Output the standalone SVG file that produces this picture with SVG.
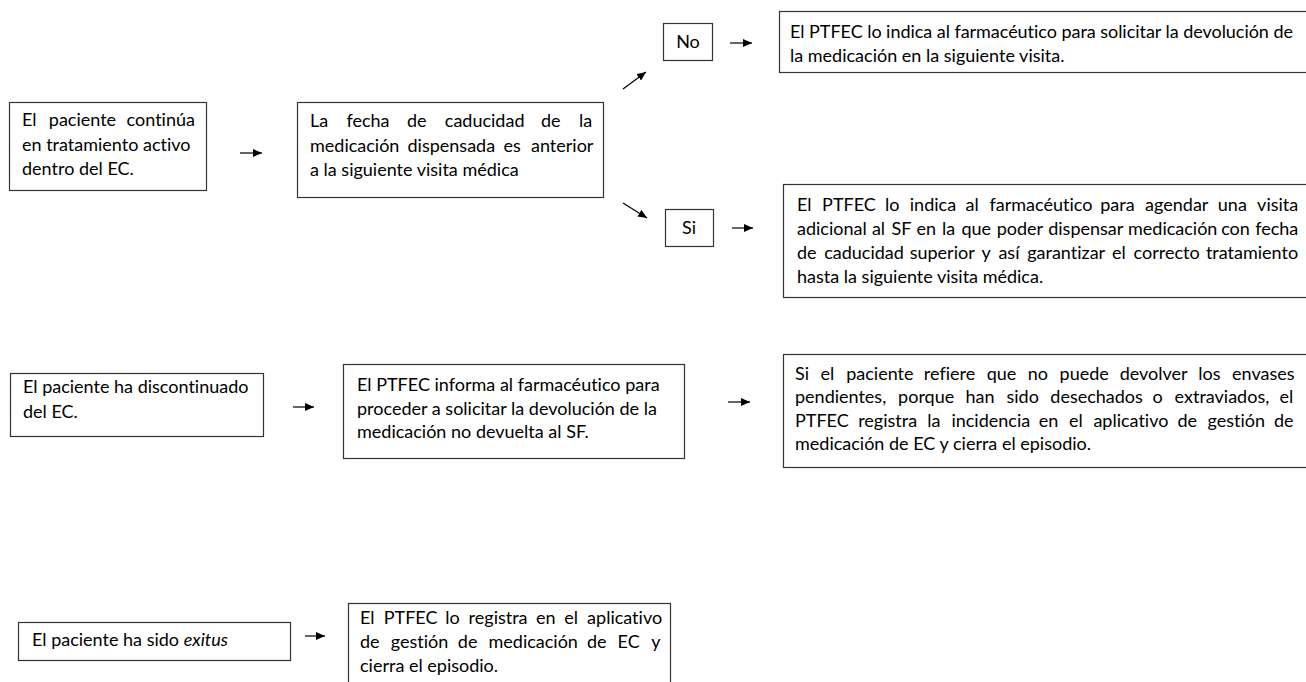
<svg xmlns="http://www.w3.org/2000/svg" width="1306" height="682" viewBox="0 0 1306 682">
<style>
.box{fill:#fff;stroke:#333;stroke-width:1.2}
.t{font-family:Lato,"Open Sans","Liberation Sans",sans-serif;font-size:18px;fill:#000;font-variant-ligatures:none}
.c{text-anchor:middle}
.arr{stroke:#000;stroke-width:1.2;fill:none;marker-end:url(#ah)}
</style>
<defs>
<marker id="ah" markerUnits="userSpaceOnUse" markerWidth="10" markerHeight="8" refX="9" refY="4" orient="auto">
<path d="M0,0 L9,4 L0,8 z" fill="#000"/>
</marker>
</defs>
<rect width="1306" height="682" fill="#fff"/>

<g id="n1">
<rect class="box" x="9.5" y="102.5" width="197" height="88"/>
<text class="t" y="126"><tspan x="22">El</tspan><tspan x="48.8">paciente</tspan><tspan x="126.6">continúa</tspan></text>
<text class="t" x="22" y="151">en tratamiento activo</text>
<text class="t" x="22" y="175">dentro del EC.</text>
</g>

<g id="n2">
<rect class="box" x="297.5" y="102.5" width="306" height="95"/>
<text class="t" y="127"><tspan x="310">La</tspan><tspan x="346.4">fecha</tspan><tspan x="406.9">de</tspan><tspan x="444.8">caducidad</tspan><tspan x="541">de</tspan><tspan x="578.9">la</tspan></text>
<text class="t" y="152"><tspan x="310">medicación</tspan><tspan x="407.5">dispensada</tspan><tspan x="503.6">es</tspan><tspan x="531">anterior</tspan></text>
<text class="t" x="310" y="176">a la siguiente visita médica</text>
</g>

<g id="no">
<rect class="box" x="663.5" y="23.5" width="49" height="37"/>
<text class="t c" x="688" y="48">No</text>
</g>

<g id="si">
<rect class="box" x="665.5" y="209.5" width="48" height="37"/>
<text class="t c" x="689" y="234">Si</text>
</g>

<g id="n3">
<rect class="box" x="779.5" y="11.5" width="540" height="61"/>
<text class="t" x="790" y="38" textLength="503" lengthAdjust="spacing">El PTFEC lo indica al farmacéutico para solicitar la devolución de</text>
<text class="t" x="790" y="62">la medicación en la siguiente visita.</text>
</g>

<g id="n4">
<rect class="box" x="783.5" y="184.5" width="540" height="113"/>
<text class="t" y="211"><tspan x="797">El</tspan><tspan x="822.1">PTFEC</tspan><tspan x="885">lo</tspan><tspan x="909.8">indica</tspan><tspan x="965.6">al</tspan><tspan x="989.5">farmacéutico</tspan><tspan x="1100.2">para</tspan><tspan x="1145.1">agendar</tspan><tspan x="1217.8">una</tspan><tspan x="1257.1">visita</tspan></text>
<text class="t" y="235"><tspan x="797">adicional</tspan><tspan x="871.9">al</tspan><tspan x="891.4">SF</tspan><tspan x="916.6">en</tspan><tspan x="942">la</tspan><tspan x="961.5">que</tspan><tspan x="996.7">poder</tspan><tspan x="1048.2">dispensar</tspan><tspan x="1128">medicación</tspan><tspan x="1221.2">con</tspan><tspan x="1255.2">fecha</tspan></text>
<text class="t" y="259"><tspan x="797">de</tspan><tspan x="824.2">caducidad</tspan><tspan x="909.7">superior</tspan><tspan x="981.4">y</tspan><tspan x="998.4">así</tspan><tspan x="1027.2">garantizar</tspan><tspan x="1112">el</tspan><tspan x="1133.6">correcto</tspan><tspan x="1205.9">tratamiento</tspan></text>
<text class="t" x="797" y="283">hasta la siguiente visita médica.</text>
</g>

<g id="n5">
<rect class="box" x="10.5" y="373.5" width="253" height="63"/>
<text class="t" x="23" y="393">El paciente ha discontinuado</text>
<text class="t" x="23" y="418">del EC.</text>
</g>

<g id="n6">
<rect class="box" x="343.5" y="364.5" width="341" height="94"/>
<text class="t" x="357" y="391">El PTFEC informa al farmacéutico para</text>
<text class="t" x="357" y="415">proceder a solicitar la devolución de la</text>
<text class="t" x="357" y="438">medicación no devuelta al SF.</text>
</g>

<g id="n7">
<rect class="box" x="783.5" y="354.5" width="540" height="113"/>
<text class="t" y="380"><tspan x="795">Si</tspan><tspan x="820.5">el</tspan><tspan x="846.2">paciente</tspan><tspan x="923.8">refiere</tspan><tspan x="986.7">que</tspan><tspan x="1027.8">no</tspan><tspan x="1059.6">puede</tspan><tspan x="1119.7">devolver</tspan><tspan x="1198.3">los</tspan><tspan x="1232.1">envases</tspan></text>
<text class="t" y="403"><tspan x="795">pendientes,</tspan><tspan x="898.1">porque</tspan><tspan x="965.5">han</tspan><tspan x="1006.5">sido</tspan><tspan x="1050.3">desechados</tspan><tspan x="1152.4">o</tspan><tspan x="1174.6">extraviados,</tspan><tspan x="1279.6">el</tspan></text>
<text class="t" y="427"><tspan x="795">PTFEC</tspan><tspan x="858.2">registra</tspan><tspan x="927.2">la</tspan><tspan x="951.4">incidencia</tspan><tspan x="1038.8">en</tspan><tspan x="1068.9">el</tspan><tspan x="1093.4">aplicativo</tspan><tspan x="1177.4">de</tspan><tspan x="1207.5">gestión</tspan><tspan x="1274">de</tspan></text>
<text class="t" x="795" y="450">medicación de EC y cierra el episodio.</text>
</g>

<g id="n8">
<rect class="box" x="18.5" y="622.5" width="272" height="38"/>
<text class="t" x="32" y="646">El paciente ha sido <tspan font-style="italic">exitus</tspan></text>
</g>

<g id="n9">
<rect class="box" x="348.5" y="603.5" width="322" height="90"/>
<text class="t" y="624"><tspan x="360">El</tspan><tspan x="383.7">PTFEC</tspan><tspan x="445.2">lo</tspan><tspan x="468.6">registra</tspan><tspan x="535.9">en</tspan><tspan x="564.3">el</tspan><tspan x="587.1">aplicativo</tspan></text>
<text class="t" y="648"><tspan x="360">de</tspan><tspan x="390.7">gestión</tspan><tspan x="457.8">de</tspan><tspan x="488.5">medicación</tspan><tspan x="587">de</tspan><tspan x="617.6">EC</tspan><tspan x="651.3">y</tspan></text>
<text class="t" x="360" y="672">cierra el episodio.</text>
</g>

<g id="connectors">
<line class="arr" x1="240" y1="153" x2="262" y2="153"/>
<line class="arr" x1="623" y1="89" x2="646" y2="72"/>
<line class="arr" x1="623" y1="203" x2="647" y2="218"/>
<line class="arr" x1="730" y1="43" x2="752" y2="43"/>
<line class="arr" x1="732" y1="228" x2="753" y2="228"/>
<line class="arr" x1="293" y1="407" x2="314" y2="407"/>
<line class="arr" x1="728" y1="402" x2="750" y2="402"/>
<line class="arr" x1="305" y1="636" x2="325" y2="636"/>
</g>
</svg>
